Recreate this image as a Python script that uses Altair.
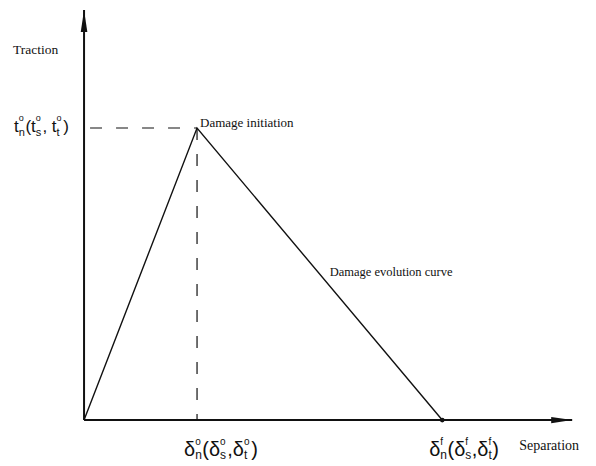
import altair as alt
import pandas as pd

# ---- data (normalised units) ----
sep_pts = [0.0, 1.0, 3.17]        # separation: origin, delta0, deltaf
trac_pts = [0.0, 1.0, 0.0]        # traction
delta0, deltaf, t0 = 1.0, 3.17, 1.0
x_axis_end = 4.32
y_axis_end = 1.404

axis_titles = ["Traction", "Separation"]
annotations = ["Damage initiation", "Damage evolution curve"]

# tick-label tokens: ("b", text) base glyph, ("ss", sub, sup) stacked sub/superscript
t_label = [("b", "t"), ("ss", "n", "o"), ("b", "("), ("b", "t"), ("ss", "s", "o"),
           ("b", ","), ("b", " "), ("b", "t"), ("ss", "t", "o"), ("b", ")")]
d0_label = [("b", "δ"), ("ss", "n", "o"), ("b", "("), ("b", "δ"), ("ss", "s", "o"),
            ("b", ","), ("b", "δ"), ("ss", "t", "o"), ("b", ")")]
df_label = [("b", "δ"), ("ss", "n", "f"), ("b", "("), ("b", "δ"), ("ss", "s", "f"),
            ("b", ","), ("b", "δ"), ("ss", "t", "f"), ("b", ")")]

XS = alt.Scale(domain=[-0.673, 4.460], nice=False, zero=False)
YS = alt.Scale(domain=[-0.130, 1.411], nice=False, zero=False)
SANS = "Liberation Sans, Arial, sans-serif"
SERIF = "Liberation Serif, Times New Roman, serif"
INK = "#111111"

EM = {"δ": 0.556, "t": 0.278, "n": 0.556, "s": 0.5, "o": 0.556, "f": 0.278,
      "(": 0.333, ")": 0.333, ",": 0.278, " ": 0.278}


def enc(chart, **extra):
    return chart.encode(x=alt.X("x:Q", scale=XS, axis=None),
                        y=alt.Y("y:Q", scale=YS, axis=None), **extra)


def text_piece(ax, ay, txt, dx, dy, size, font):
    df = pd.DataFrame({"x": [ax], "y": [ay], "t": [txt]})
    return enc(alt.Chart(df).mark_text(align="left", baseline="alphabetic", dx=dx, dy=dy,
                                       fontSize=size, font=font, color=INK), text="t:N")


def build_label(tokens, ax, ay, dx0, dy0, size, subsize, sub_dy, sup_dy):
    layers = []
    x = dx0
    for tok in tokens:
        if tok[0] == "b":
            layers.append(text_piece(ax, ay, tok[1], x, dy0, size, SANS))
            x += EM[tok[1]] * size
        else:
            layers.append(text_piece(ax, ay, tok[1], x, dy0 + sub_dy, subsize, SANS))
            layers.append(text_piece(ax, ay, tok[2], x, dy0 + sup_dy, subsize - 2, SANS))
            x += max(EM[tok[1]], EM[tok[2]]) * subsize + 0.5
    return layers


curve_df = pd.DataFrame({"x": sep_pts, "y": trac_pts})
curve = enc(alt.Chart(curve_df).mark_line(color=INK, strokeWidth=1.4), order="x:Q")

axes_df = pd.DataFrame({"x": [0.0, 0.0], "x2": [x_axis_end, 0.0],
                        "y": [0.0, 0.0], "y2": [0.0, y_axis_end]})
axes = enc(alt.Chart(axes_df).mark_rule(color=INK, strokeWidth=2), x2="x2:Q", y2="y2:Q")

yarrow = enc(alt.Chart(pd.DataFrame({"x": [0.0], "y": [y_axis_end]})).mark_point(
    shape="M0,-1L0.3,1L-0.3,1Z", size=484, filled=True, color=INK, opacity=1,
    strokeWidth=0, yOffset=11))
xarrow = enc(alt.Chart(pd.DataFrame({"x": [x_axis_end], "y": [0.0]})).mark_point(
    shape="M1,0L-1,-0.3L-1,0.3Z", size=441, filled=True, color=INK, opacity=1,
    strokeWidth=0, xOffset=-10.5))

hdash = enc(alt.Chart(pd.DataFrame({"x": [0.0], "x2": [delta0], "y": [t0]})).mark_rule(
    color=INK, strokeWidth=1.2, strokeDash=[12, 14], strokeDashOffset=20), x2="x2:Q")
vdash = enc(alt.Chart(pd.DataFrame({"x": [delta0], "y": [t0], "y2": [0.0]})).mark_rule(
    color=INK, strokeWidth=1.2, strokeDash=[12, 14]), y2="y2:Q")

enddot = enc(alt.Chart(pd.DataFrame({"x": [deltaf], "y": [0.0]})).mark_circle(
    size=22, color=INK, opacity=1))

layers = [axes, yarrow, xarrow, hdash, vdash, curve, enddot]

layers.append(text_piece(0.0, y_axis_end, axis_titles[0], -71, 44, 13.5, SERIF))
layers.append(text_piece(x_axis_end, 0.0, axis_titles[1], -53, 30, 14, SERIF))
layers.append(text_piece(delta0, t0, annotations[0], 3, -1, 13, SERIF))
layers.append(text_piece((delta0 + deltaf) / 2, t0 / 2, annotations[1], 10, 2, 12.5, SERIF))

layers += build_label(t_label, 0.0, t0, -70, 4, 17, 11, 4, -11)
layers += build_label(d0_label, delta0, 0.0, -13, 36, 20, 12, 3, -11)
layers += build_label(df_label, deltaf, 0.0, -13, 36, 20, 12, 3, -11)

chart = alt.layer(*layers).properties(
    width=580, height=450, padding=0,
    view=alt.ViewBackground(stroke=None, strokeWidth=0),
).configure_view(strokeWidth=0, stroke=None).configure(background="white")

chart.save("out.html", embed_options={"renderer": "svg", "actions": False})
